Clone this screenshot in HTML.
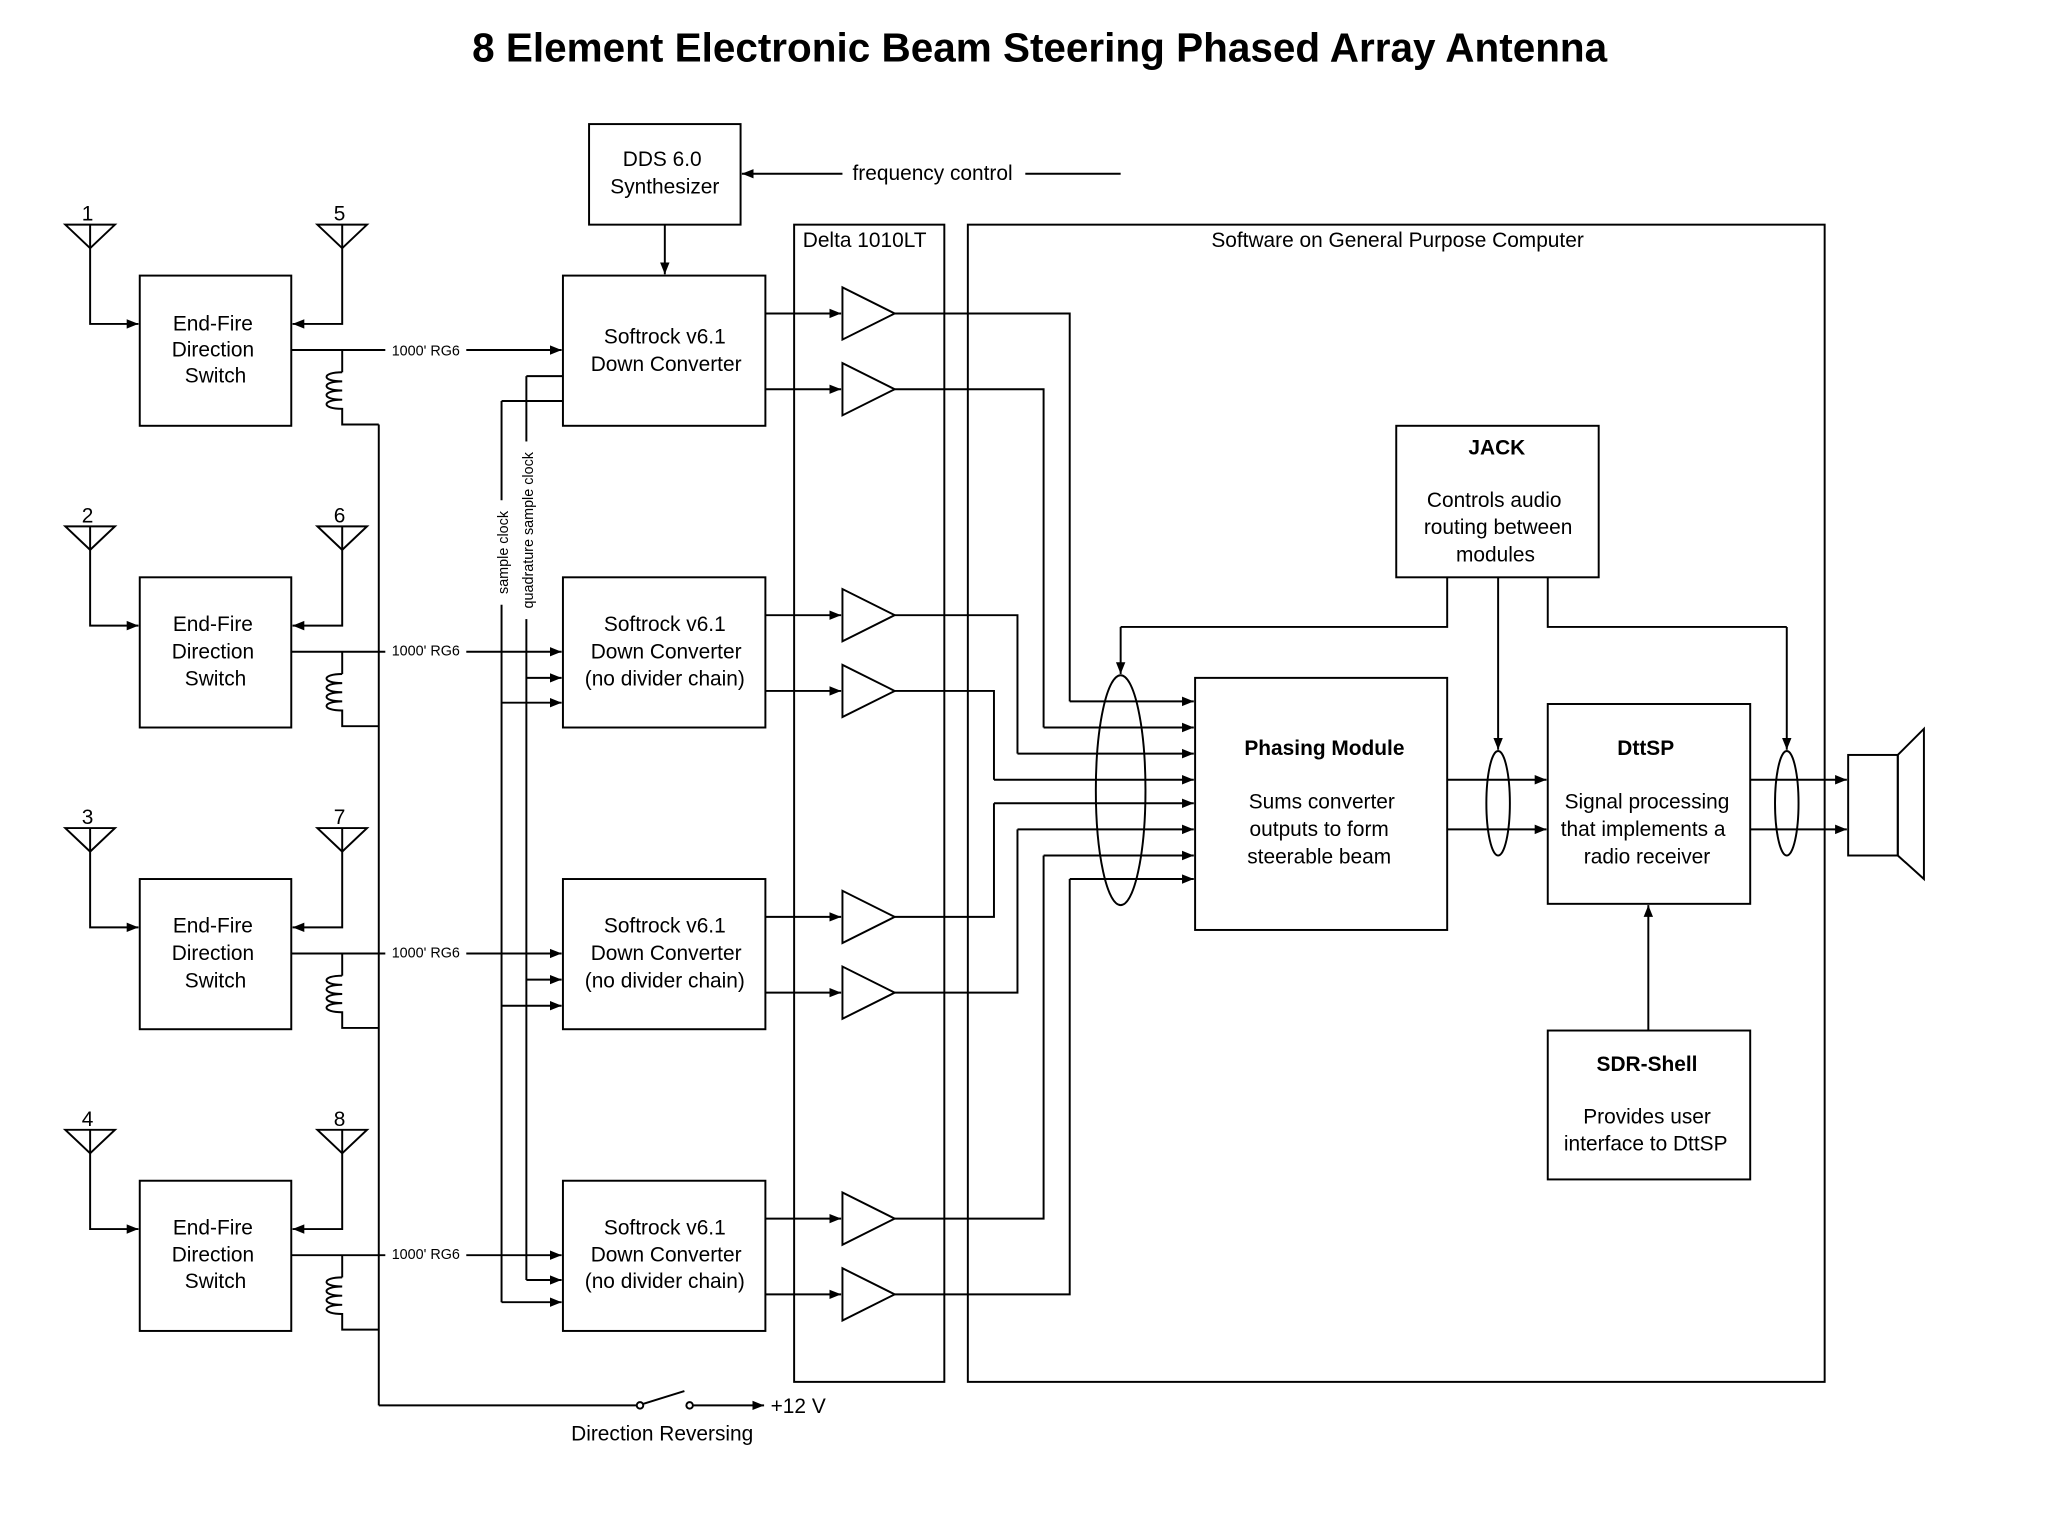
<!DOCTYPE html>
<html><head><meta charset="utf-8"><style>
html,body{margin:0;padding:0;background:#fff;}
svg{display:block;}
text{font-family:"Liberation Sans",Arial,sans-serif;font-size:16px;fill:#000;}
.b{font-weight:bold;}
.s{font-size:11px;}
</style></head><body>
<svg width="2048" height="1536" viewBox="0 0 1568 1176" xmlns="http://www.w3.org/2000/svg">
<defs>
<marker id="a" viewBox="0 0 10 10" refX="10" refY="5" markerWidth="9" markerHeight="9" markerUnits="userSpaceOnUse" orient="auto"><path d="M0,1 L10,5 L0,9 z" fill="#000"/></marker>
</defs>
<rect width="1568" height="1176" fill="#fff"/>
<text x="796" y="47" text-anchor="middle" class="b" style="font-size:31px">8 Element Electronic Beam Steering Phased Array Antenna</text>

<g stroke="#000" stroke-width="1.5" fill="none">
<rect x="451" y="95" width="116" height="77"/>
<line x1="858" y1="133" x2="568" y2="133" marker-end="url(#a)"/>
<line x1="509" y1="172" x2="509" y2="210" marker-end="url(#a)"/>
<rect x="608" y="172" width="115" height="886"/>
<rect x="741" y="172" width="656" height="886"/>
<line x1="431" y1="307" x2="384" y2="307"/>
<line x1="384" y1="307" x2="384" y2="997"/>
<line x1="431" y1="288" x2="403" y2="288"/>
<line x1="403" y1="288" x2="403" y2="980"/>
<line x1="290" y1="325" x2="290" y2="1076"/>
<line x1="290" y1="1076" x2="487" y2="1076"/>
<circle cx="490" cy="1076" r="2.5"/>
<line x1="492" y1="1075" x2="524" y2="1065"/>
<circle cx="528" cy="1076" r="2.5"/>
<line x1="531" y1="1076" x2="585" y2="1076" marker-end="url(#a)"/>
<rect x="1069" y="326" width="155" height="116"/>
<rect x="915" y="519" width="193" height="193"/>
<rect x="1185" y="539" width="155" height="153"/>
<rect x="1185" y="789" width="155" height="114"/>
<polyline points="1108,442 1108,480 858,480"/>
<line x1="858" y1="480" x2="858" y2="516" marker-end="url(#a)"/>
<line x1="1147" y1="442" x2="1147" y2="574" marker-end="url(#a)"/>
<polyline points="1185,442 1185,480 1368,480"/>
<line x1="1368" y1="480" x2="1368" y2="574" marker-end="url(#a)"/>
<line x1="1262" y1="789" x2="1262" y2="693" marker-end="url(#a)"/>
<ellipse cx="858" cy="605" rx="19" ry="88"/>
<ellipse cx="1147" cy="615" rx="9" ry="40"/>
<ellipse cx="1368" cy="615" rx="9" ry="40"/>
<line x1="1108" y1="597" x2="1184" y2="597" marker-end="url(#a)"/>
<line x1="1108" y1="635" x2="1184" y2="635" marker-end="url(#a)"/>
<line x1="1340" y1="597" x2="1414" y2="597" marker-end="url(#a)"/>
<line x1="1340" y1="635" x2="1414" y2="635" marker-end="url(#a)"/>
<rect x="1415" y="578" width="38" height="77"/>
<polygon points="1453,578 1473,558 1473,673 1453,655"/>
<polyline points="685,240 819,240 819,537"/>
<polyline points="685,298 799,298 799,557"/>
<polyline points="685,471 779,471 779,577"/>
<polyline points="685,529 761,529 761,597"/>
<polyline points="685,702 761,702 761,615"/>
<polyline points="685,760 779,760 779,635"/>
<polyline points="685,933 799,933 799,655"/>
<polyline points="685,991 819,991 819,673"/>
<line x1="819" y1="537" x2="914" y2="537" marker-end="url(#a)"/>
<line x1="799" y1="557" x2="914" y2="557" marker-end="url(#a)"/>
<line x1="779" y1="577" x2="914" y2="577" marker-end="url(#a)"/>
<line x1="761" y1="597" x2="914" y2="597" marker-end="url(#a)"/>
<line x1="761" y1="615" x2="914" y2="615" marker-end="url(#a)"/>
<line x1="779" y1="635" x2="914" y2="635" marker-end="url(#a)"/>
<line x1="799" y1="655" x2="914" y2="655" marker-end="url(#a)"/>
<line x1="819" y1="673" x2="914" y2="673" marker-end="url(#a)"/>
</g>

<g id="g0" stroke="#000" stroke-width="1.5" fill="none">
<polygon points="50,172 88,172 69,190"/>
<polyline points="69,172 69,248 106,248" marker-end="url(#a)"/>
<polygon points="243,172 281,172 262,190"/>
<polyline points="262,172 262,248 224,248" marker-end="url(#a)"/>
<rect x="107" y="211" width="116" height="115"/>
<line x1="223" y1="268" x2="295" y2="268"/>
<line x1="357" y1="268" x2="430" y2="268" marker-end="url(#a)"/>
<polyline points="262,268 262,285"/>
<path d="M262,285 c-16,0 -16,7 0,7 c-16,0 -16,7 0,7 c-16,0 -16,7 0,7 c-16,0 -16,7 0,7 l0,12 l28,0"/>
<rect x="431" y="211" width="155" height="115"/>
<line x1="586" y1="240" x2="644" y2="240" marker-end="url(#a)"/>
<line x1="586" y1="298" x2="644" y2="298" marker-end="url(#a)"/>
<polygon points="645,220 645,260 685,240"/>
<polygon points="645,278 645,318 685,298"/>
</g>
<g stroke="#000" stroke-width="1.5" fill="none">
<line x1="403" y1="519" x2="430" y2="519" marker-end="url(#a)"/>
<line x1="384" y1="538" x2="430" y2="538" marker-end="url(#a)"/>
<line x1="403" y1="750" x2="430" y2="750" marker-end="url(#a)"/>
<line x1="384" y1="770" x2="430" y2="770" marker-end="url(#a)"/>
<line x1="403" y1="980" x2="430" y2="980" marker-end="url(#a)"/>
<line x1="384" y1="997" x2="430" y2="997" marker-end="url(#a)"/>
</g>
<use href="#g0" transform="translate(0,231)"/>
<use href="#g0" transform="translate(0,462)"/>
<use href="#g0" transform="translate(0,693)"/>

<text x="507" y="127" text-anchor="middle">DDS 6.0</text>
<text x="509" y="148" text-anchor="middle">Synthesizer</text>
<rect x="645" y="124" width="140" height="18" fill="#fff"/>
<text x="714" y="138" text-anchor="middle">frequency control</text>
<text x="662" y="189" text-anchor="middle">Delta 1010LT</text>
<text x="1070" y="189" text-anchor="middle">Software on General Purpose Computer</text>

<g text-anchor="middle">
<text x="67" y="169">1</text><text x="260" y="169">5</text>
<text x="67" y="400">2</text><text x="260" y="400">6</text>
<text x="67" y="631">3</text><text x="260" y="631">7</text>
<text x="67" y="862">4</text><text x="260" y="862">8</text>
<text x="163" y="253">End-Fire</text><text x="163" y="273">Direction</text><text x="165" y="293">Switch</text>
<text x="163" y="483">End-Fire</text><text x="163" y="504">Direction</text><text x="165" y="525">Switch</text>
<text x="163" y="714">End-Fire</text><text x="163" y="735">Direction</text><text x="165" y="756">Switch</text>
<text x="163" y="945">End-Fire</text><text x="163" y="966">Direction</text><text x="165" y="986">Switch</text>
<text class="s" x="326" y="272">1000' RG6</text><text class="s" x="326" y="502">1000' RG6</text>
<text class="s" x="326" y="733">1000' RG6</text><text class="s" x="326" y="964">1000' RG6</text>
<text x="509" y="263">Softrock v6.1</text><text x="510" y="284">Down Converter</text>
<text x="509" y="483">Softrock v6.1</text><text x="510" y="504">Down Converter</text><text x="509" y="525">(no divider chain)</text>
<text x="509" y="714">Softrock v6.1</text><text x="510" y="735">Down Converter</text><text x="509" y="756">(no divider chain)</text>
<text x="509" y="945">Softrock v6.1</text><text x="510" y="966">Down Converter</text><text x="509" y="986">(no divider chain)</text>
<text x="1146" y="348" class="b">JACK</text>
<text x="1144" y="388">Controls audio</text><text x="1147" y="409">routing between</text><text x="1145" y="430">modules</text>
<text x="1014" y="578" class="b">Phasing Module</text>
<text x="1012" y="619">Sums converter</text><text x="1010" y="640">outputs to form</text><text x="1010" y="661">steerable beam</text>
<text x="1260" y="578" class="b">DttSP</text>
<text x="1261" y="619">Signal processing</text><text x="1258" y="640">that implements a</text><text x="1261" y="661">radio receiver</text>
<text x="1261" y="820" class="b">SDR-Shell</text>
<text x="1261" y="860">Provides user</text><text x="1260" y="881">interface to DttSP</text>
<text x="507" y="1103">Direction Reversing</text>
</g>
<text x="590" y="1082">+12 V</text>
<rect x="377" y="383" width="14" height="80" fill="#fff"/>
<rect x="396" y="338" width="14" height="136" fill="#fff"/>
<text class="s" transform="translate(389,423) rotate(-90)" text-anchor="middle">sample clock</text>
<text class="s" transform="translate(408,406) rotate(-90)" text-anchor="middle">quadrature sample clock</text>
</svg>
</body></html>
